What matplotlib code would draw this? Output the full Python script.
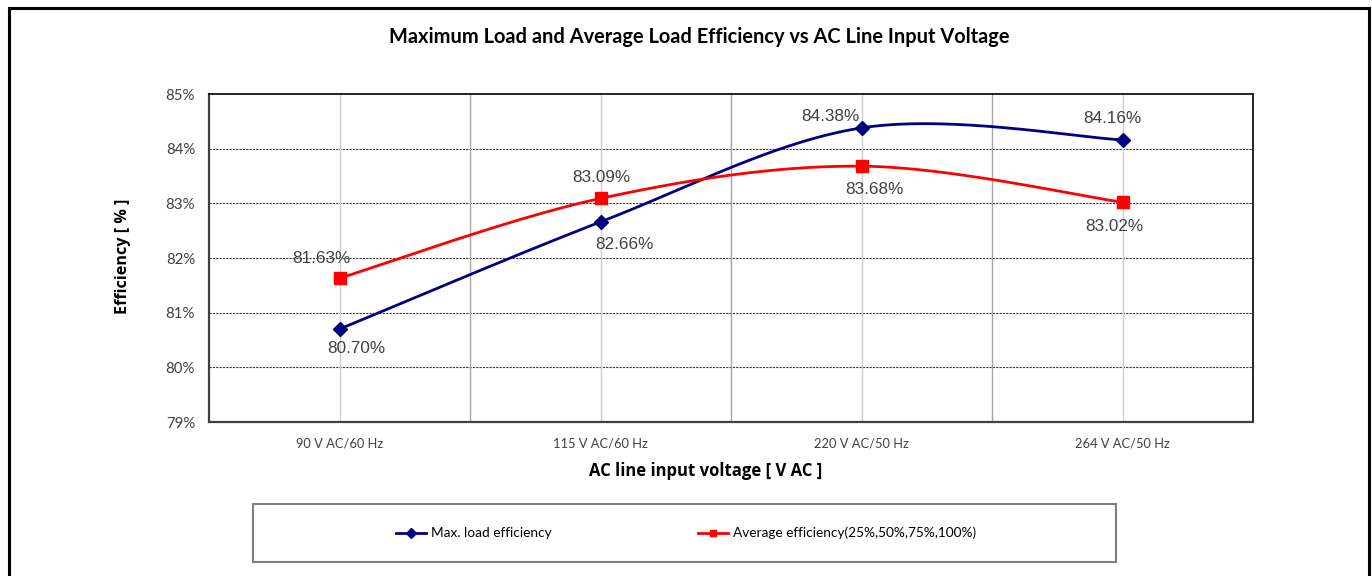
"""Efficiency vs AC line input voltage, Excel-style smoothed line chart."""

import matplotlib

matplotlib.use("Agg")
import matplotlib.pyplot as plt
import numpy as np
from matplotlib.lines import Line2D
from matplotlib.patches import Circle, Rectangle
from matplotlib.ticker import FuncFormatter

W, H, DPI = 1372, 576, 100

# --- data ---
categories = ["90 V AC/60 Hz", "115 V AC/60 Hz", "220 V AC/50 Hz", "264 V AC/50 Hz"]
max_load_eff = [80.70, 82.66, 84.38, 84.16]
avg_eff = [81.63, 83.09, 83.68, 83.02]
y_ticks = [79, 80, 81, 82, 83, 84, 85]

title = "Maximum Load and Average Load Efficiency vs AC Line Input Voltage"
x_label = "AC line input voltage [ V AC ]"
y_label = "Efficiency [ % ]"
legend_labels = ["Max. load efficiency", "Average efficiency(25%,50%,75%,100%)"]

# label offsets in pixels (dx, dy), up is positive
max_offsets = [(17, -19), (24, -23), (-31, 11), (-10, 21)]
avg_offsets = [(-18, 20), (1, 21), (13, -23), (-8, -24)]

BLUE = "#000080"
RED = "#ff0000"
UI_FONT = ["Lato", "DejaVu Sans"]
AXIS_FONT = ["Open Sans", "DejaVu Sans"]
LABEL_FONT = ["Liberation Sans", "DejaVu Sans"]


def px(x, y):
    """Pixel coords (top-left origin) -> figure fraction."""
    return x / W, 1 - y / H


def smooth_curve(xs, ys, n=60):
    """Excel-like smoothed line: cubic Bezier through points (Catmull-Rom)."""
    pts = np.column_stack([xs, ys]).astype(float)
    ext = np.vstack([pts[0], pts, pts[-1]])
    t = np.linspace(0, 1, n)[:, None]
    out = []
    for i in range(len(pts) - 1):
        p0, p3 = ext[i + 1], ext[i + 2]
        c1 = p0 + (ext[i + 2] - ext[i]) / 6
        c2 = p3 - (ext[i + 3] - ext[i + 1]) / 6
        seg = ((1 - t) ** 3) * p0 + 3 * ((1 - t) ** 2) * t * c1 + 3 * (1 - t) * t**2 * c2 + t**3 * p3
        out.append(seg if i == 0 else seg[1:])
    out = np.vstack(out)
    return out[:, 0], out[:, 1]


fig = plt.figure(figsize=(W / DPI, H / DPI), dpi=DPI)

# outer frame of the chart object (bottom runs off the picture)
fig.patches.append(
    Rectangle(px(9, 600), (1369 - 9) / W, (600 - 8) / H, transform=fig.transFigure,
              fill=False, edgecolor="black", linewidth=2.2, zorder=0)
)

left, top = px(209, 94)
right, bottom = px(1253, 422)
ax = fig.add_axes([left, bottom, right - left, top - bottom])

x = np.arange(len(categories))
ax.set_xlim(-0.5, len(categories) - 0.5)
ax.set_ylim(y_ticks[0], y_ticks[-1])

# gridlines
for yv in y_ticks[1:-1]:
    ax.axhline(yv, color="#3a3a3a", linewidth=0.8, linestyle=(0, (2, 1)), zorder=1)
for xv in x:
    ax.axvline(xv, color="#cfcfcf", linewidth=1.0, zorder=1)
for xv in x[:-1] + 0.5:
    ax.axvline(xv, color="#a6a6a6", linewidth=1.0, zorder=1)

series = [
    (max_load_eff, BLUE, "D", 7, max_offsets),
    (avg_eff, RED, "s", 8, avg_offsets),
]
for vals, color, marker, msize, offsets in series:
    sx, sy = smooth_curve(x, vals)
    ax.plot(sx, sy, color=color, linewidth=2.0, zorder=3, solid_capstyle="round")
    ax.plot(x, vals, linestyle="none", marker=marker, markersize=msize,
            color=color, markeredgecolor=color, zorder=4)
    for xi, v, (dx, dy) in zip(x, vals, offsets):
        ax.annotate(f"{v:.2f}%", (xi, v), xytext=(dx * 72 / DPI, dy * 72 / DPI),
                    textcoords="offset points", ha="center", va="center",
                    fontsize=12.3, color="#404040", family=LABEL_FONT, zorder=5)

ax.set_xticks(x)
ax.set_xticklabels(categories)
ax.set_yticks(y_ticks)
ax.yaxis.set_major_formatter(FuncFormatter(lambda v, _: f"{v:.0f}%"))
ax.tick_params(axis="both", length=0, labelcolor="#404040")
ax.tick_params(axis="x", pad=11, labelsize=9.3)
ax.tick_params(axis="y", pad=10, labelsize=10.8)
for lbl in ax.get_xticklabels() + ax.get_yticklabels():
    lbl.set_family(UI_FONT)

for side in ("top", "right"):
    ax.spines[side].set_color("black")
    ax.spines[side].set_linewidth(1.2)
for side in ("left", "bottom"):
    ax.spines[side].set_color("#404040")
    ax.spines[side].set_linewidth(1.6)

# titles
fig.text(*px(699, 37), title, ha="center", va="center", fontsize=14.4,
         fontweight="bold", family=UI_FONT)
fig.text(*px(706, 471), x_label, ha="center", va="center", fontsize=12,
         fontweight="bold", family=AXIS_FONT)
fig.text(*px(123, 256), y_label, ha="center", va="center", rotation=90,
         fontsize=11.6, fontweight="bold", family=AXIS_FONT)

# legend box
lx0, ly1 = px(253, 562)
lx1, ly0 = px(1116, 504)
fig.patches.append(
    Rectangle((lx0, ly1), lx1 - lx0, ly0 - ly1, transform=fig.transFigure,
              fill=False, edgecolor="#7f7f7f", linewidth=1.5)
)
handles = [
    Line2D([], [], color=BLUE, linewidth=2.0, marker="D", markersize=5),
    Line2D([], [], color=RED, linewidth=2.0, marker="s", markersize=5),
]
fig.legend(handles, legend_labels, loc="center", bbox_to_anchor=px(686, 533),
           ncol=2, frameon=False, handlelength=2.2, handletextpad=0.37,
           columnspacing=10.7, prop={"family": UI_FONT, "size": 9.8})

# partly visible element below the chart
fig.patches.append(
    Circle(px(697, 582), 7 / W, transform=fig.transFigure, fill=False,
           edgecolor="#606060", linewidth=1.5)
)

fig.savefig("out.png", dpi=DPI)
